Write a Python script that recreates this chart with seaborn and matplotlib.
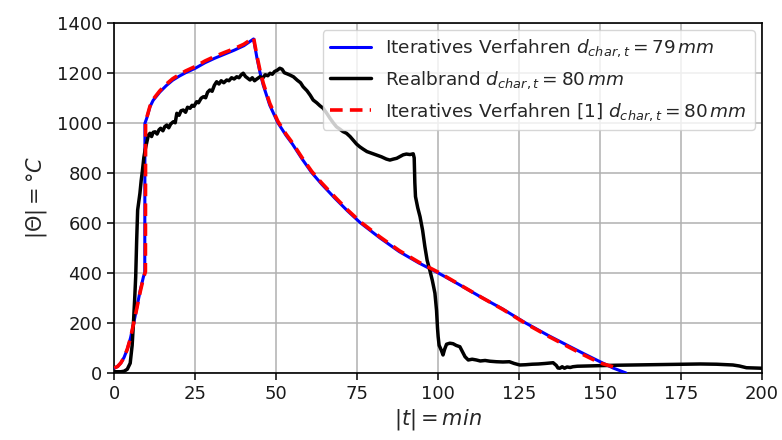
import numpy as np
import pandas as pd
import matplotlib
matplotlib.use("Agg")
import matplotlib.pyplot as plt
import seaborn as sns

# Iteratives Verfahren, d_char,t = 79 mm (time in min, temperature in °C)
t_iter79 = [0, 1, 2, 3, 4, 5, 6, 7, 8, 9, 9.4, 9.45, 10, 11, 12, 14, 16, 18, 20,
            22, 25, 28, 31, 34, 37, 40, 43, 44, 45, 46, 48, 50.5, 53, 55, 58, 61,
            64, 68, 72, 76, 82, 88, 94, 100, 106, 113, 120, 127, 134, 140, 145,
            150, 154, 158]
T_iter79 = [20, 26, 40, 62, 95, 140, 200, 265, 330, 385, 400, 998, 1018, 1064,
            1090, 1122, 1148, 1170, 1186, 1200, 1218, 1240, 1258, 1274, 1290,
            1308, 1335, 1262, 1200, 1150, 1070, 1000, 950, 915, 855, 800, 755,
            700, 648, 600, 540, 485, 440, 400, 357, 305, 255, 200, 150, 110, 77,
            45, 20, 0]

# Iteratives Verfahren [1], d_char,t = 80 mm
t_iter80 = [0, 1, 2, 3, 4, 5, 6, 7, 8, 9, 9.6, 9.65, 10, 11, 12, 14, 16, 18, 20,
            22, 25, 28, 31, 34, 37, 40, 43, 44, 45, 46, 48, 50.5, 53, 55, 58, 61,
            64, 68, 72, 76, 82, 88, 94, 100, 106, 113, 120, 127, 134, 140, 145,
            150, 155.3]
T_iter80 = [20, 26, 40, 62, 95, 140, 200, 262, 325, 380, 405, 1000, 1020, 1066,
            1094, 1127, 1154, 1176, 1192, 1207, 1225, 1247, 1265, 1281, 1296,
            1314, 1340, 1270, 1208, 1158, 1078, 1006, 955, 920, 860, 805, 760,
            705, 652, 604, 544, 489, 443, 403, 358, 305, 254, 198, 147, 106, 72,
            40, 20]

# Realbrand, d_char,t = 80 mm (measured)
t_real = [0, 2, 3, 4, 4.9, 5.5, 5.9, 6.3, 6.6, 6.9, 7.2, 7.6, 7.9, 8.3, 8.7, 9.1,
          9.5, 10.0, 10.5, 11.0, 11.5, 12.0, 12.6, 13.2, 13.8, 14.3, 15.0, 15.6,
          16.2, 16.8, 17.4, 18.2, 18.8, 19.3, 20.0, 20.6, 21.3, 22.0, 22.6, 23.4,
          24.0, 24.6, 25.4, 26.0, 26.8, 27.5, 28.2, 28.8, 29.5, 30.2, 30.9, 31.6,
          32.3, 33.0, 33.8, 34.7, 35.4, 36.2, 37.0, 37.8, 38.5, 39.2, 39.8, 40.5,
          41.2, 41.9, 42.6, 43.3, 44.0, 45.0, 45.8, 46.6, 47.4, 48.1, 48.8, 49.5,
          50.3, 51.1, 51.8, 52.5, 53.3, 54.2, 55.3, 56.5, 57.5, 58.3, 59.5, 60.5,
          61.4, 62.5, 63.5, 64.5, 65.5, 66.6, 67.6, 68.6, 69.6, 70.6, 71.7, 72.8,
          73.8, 74.8, 75.8, 76.8, 78.0, 79.5, 81.0, 82.5, 84.0, 85.1, 86.2, 87.2,
          88.2, 89.2, 90.2, 91.3, 92.3, 92.6, 92.8, 93.0, 93.7, 94.4, 95.2, 95.9,
          96.6, 97.4, 98.2, 99.0, 99.5, 99.8, 100.0, 100.3, 100.5, 101.0, 101.5,
          102.0, 102.6, 103.6, 104.6, 105.6, 106.7, 107.5, 108.3, 109.3, 110.5,
          111.8, 113.0, 114.5, 116.0, 118.0, 120.0, 122.0, 123.5, 125.2, 127.0,
          129.0, 131.0, 133.0, 135.5, 136.5, 137.0, 137.6, 138.3, 139.0, 139.8,
          140.8, 141.6, 143.0, 146.0, 150.0, 155.0, 160.0, 165.0, 170.0, 175.0,
          181.0, 186.0, 191.0, 193.0, 195.2, 197.5, 200.0]
T_real = [5, 5, 7, 15, 39, 110, 199, 300, 385, 530, 651, 690, 718, 770, 811, 860,
          891, 920, 950, 958, 945, 962, 964, 955, 972, 978, 968, 985, 991, 980,
          995, 1004, 1000, 1038, 1030, 1048, 1051, 1042, 1062, 1058, 1070, 1066,
          1084, 1080, 1098, 1104, 1100, 1122, 1131, 1126, 1150, 1164, 1155, 1168,
          1160, 1171, 1168, 1180, 1175, 1184, 1180, 1192, 1198, 1185, 1178, 1171,
          1180, 1168, 1175, 1184, 1178, 1192, 1188, 1198, 1194, 1205, 1210, 1218,
          1214, 1200, 1196, 1191, 1184, 1170, 1160, 1144, 1128, 1110, 1091, 1080,
          1068, 1058, 1040, 1018, 1000, 984, 975, 965, 958, 945, 930, 915, 904,
          895, 885, 878, 871, 864, 855, 851, 855, 858, 865, 872, 875, 873, 876,
          860, 760, 705, 660, 625, 570, 505, 450, 412, 370, 319, 250, 180, 145,
          110, 105, 90, 72, 95, 115, 119, 117, 110, 105, 85, 65, 52, 55, 52, 48,
          50, 47, 45, 44, 45, 38, 32, 33, 35, 36, 38, 41, 30, 20, 19, 25, 19, 24,
          22, 25, 27, 28, 29, 31, 32, 33, 34, 35, 36, 35, 32, 28, 21, 20, 19]

x_ticks = [0, 25, 50, 75, 100, 125, 150, 175, 200]
y_ticks = [0, 200, 400, 600, 800, 1000, 1200, 1400]

label_iter79 = r"Iteratives Verfahren $d_{char,t} = 79\,mm$"
label_real = r"Realbrand $d_{char,t} = 80\,mm$"
label_iter80 = r"Iteratives Verfahren [1] $d_{char,t} = 80\,mm$"

sns.set_style("ticks")
plt.rcParams["font.family"] = ["DejaVu Sans"]
plt.rcParams["mathtext.fontset"] = "dejavusans"

fig = plt.figure(figsize=(7.82, 4.40), dpi=100)
ax = fig.add_axes([0.1462, 0.1523, 0.8282, 0.7961])

df79 = pd.DataFrame({"t": t_iter79, "T": T_iter79})
dfr = pd.DataFrame({"t": t_real, "T": T_real})
df80 = pd.DataFrame({"t": t_iter80, "T": T_iter80})

sns.lineplot(data=df79, x="t", y="T", ax=ax, color="blue", lw=2.2,
             estimator=None, sort=False, label=label_iter79, zorder=3)
sns.lineplot(data=dfr, x="t", y="T", ax=ax, color="black", lw=2.5,
             estimator=None, sort=False, label=label_real, zorder=4)
sns.lineplot(data=df80, x="t", y="T", ax=ax, color="red", lw=2.6,
             estimator=None, sort=False, label=label_iter80, zorder=5,
             dashes=False, linestyle=(0, (3.5, 2)))

ax.set_xlim(0, 200)
ax.set_ylim(0, 1400)
ax.set_xticks(x_ticks)
ax.set_yticks(y_ticks)
ax.grid(True, color="#b0b0b0", lw=1.1)
ax.set_axisbelow(True)
for s in ax.spines.values():
    s.set_color("black")
    s.set_linewidth(1.2)
ax.tick_params(axis="both", labelsize=13, length=5, width=1.1,
               color="black", labelcolor="#1a1a1a", direction="out")

ax.set_xlabel(r"$|t| = min$", fontsize=15, labelpad=3)
ax.set_ylabel(r"$|\Theta| = °C$", fontsize=15, labelpad=6)

leg = ax.legend(loc="upper right", fontsize=13.3, frameon=True, fancybox=True,
                framealpha=0.8, edgecolor="#cccccc", borderaxespad=0.4,
                handlelength=2.2, labelspacing=0.55)

fig.savefig("out.png", dpi=100)
